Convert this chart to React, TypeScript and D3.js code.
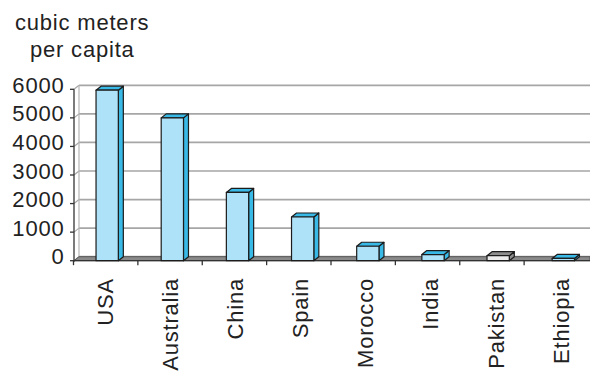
import React from "react";
import * as d3 from "d3";

const categories = ["USA", "Australia", "China", "Spain", "Morocco", "India", "Pakistan", "Ethiopia"];
const values = [5970, 5000, 2390, 1530, 505, 215, 175, 80];
const yTicks = [0, 1000, 2000, 3000, 4000, 5000, 6000];
const titleLines = ["cubic meters", "per capita"];

const W = 590;
const H = 371;

// oblique depth offset of the 3-D floor / walls
const DX = 5;
const DY = -4;

const FONT = "'Liberation Sans', Arial, Helvetica, sans-serif";
const FS = 22;
const LS = 0.8;

export default function App() {
  const y = d3.scaleLinear().domain([0, 6000]).range([260.7, 89.3]);
  // category slots along the front edge of the floor
  const xFloor = d3.scaleBand<string>().domain(categories).range([73.5, 588.5]);
  // column placement (slightly wider pitch because of the perspective)
  const xBar = d3.scaleBand<string>().domain(categories).range([74.6, 595.9]);
  const barW = xBar.step() * 0.342;

  const x0 = 74;
  const xEnd = 590;
  const y0 = y(0);

  const blueFront = "#aee2f9";
  const blueSide = "#38b9e6";
  const greyFront = "#ececec";
  const greySide = "#8e8e8e";

  return (
    <svg
      width={W}
      height={H}
      style={{ position: "absolute", left: 0, top: 0, background: "#fff" }}
      fontFamily={FONT}
    >
      {/* axis title */}
      <text x={15} y={30} fontSize={FS} letterSpacing={LS} fill="#222">
        {titleLines[0]}
      </text>
      <text x={30} y={56.5} fontSize={FS} letterSpacing={LS} fill="#222">
        {titleLines[1]}
      </text>

      {/* back wall gridlines with side-wall connectors */}
      {yTicks.map((t) => (
        <g key={t}>
          <line x1={x0 + DX} x2={xEnd} y1={y(t) + DY} y2={y(t) + DY} stroke="#a6a6a6" strokeWidth={1.7} />
          <line x1={x0} x2={x0 + DX} y1={y(t)} y2={y(t) + DY} stroke="#a6a6a6" strokeWidth={1.2} />
        </g>
      ))}
      <line x1={x0 + DX} x2={x0 + DX} y1={y(6000) + DY} y2={y(0) + DY} stroke="#b5b5b5" strokeWidth={1.2} />

      {/* floor */}
      <polygon
        points={`${x0},${y0} ${x0 + DX},${y0 + DY} ${xEnd},${y0 + DY} ${xEnd},${y0}`}
        fill="#8a8a8a"
        stroke="#555"
        strokeWidth={1}
      />

      {/* front value axis */}
      <line x1={x0} x2={x0} y1={y(6000)} y2={y0 + 1} stroke="#333" strokeWidth={1.3} />
      {yTicks.map((t) => (
        <g key={"t" + t}>
          <line x1={x0 - 4} x2={x0} y1={y(t)} y2={y(t)} stroke="#333" strokeWidth={1.3} />
          <text
            x={64.5}
            y={y(t) - 4}
            textAnchor="end"
            dominantBaseline="central"
            fontSize={FS}
            letterSpacing={LS}
            fill="#222"
          >
            {t}
          </text>
        </g>
      ))}

      {/* front category axis */}
      <line x1={x0} x2={xEnd} y1={y0} y2={y0} stroke="#333" strokeWidth={1.3} />
      {categories.map((c) => (
        <line
          key={"xt" + c}
          x1={xFloor(c)!}
          x2={xFloor(c)!}
          y1={y0}
          y2={y0 + 4.5}
          stroke="#333"
          strokeWidth={1.3}
        />
      ))}

      {/* columns */}
      {categories.map((c, i) => {
        const v = values[i];
        const cx = xBar(c)! + xBar.bandwidth() / 2;
        const l = cx - barW / 2;
        const r = cx + barW / 2;
        const top = y(v);
        const grey = c === "Pakistan";
        const front = grey ? greyFront : blueFront;
        const side = grey ? greySide : blueSide;
        return (
          <g key={c} stroke="#1c1c1c" strokeWidth={1.2} strokeLinejoin="round">
            <polygon
              points={`${r},${top} ${r + DX},${top + DY} ${r + DX},${y0 + DY} ${r},${y0}`}
              fill={side}
            />
            <polygon
              points={`${l},${top} ${l + DX},${top + DY} ${r + DX},${top + DY} ${r},${top}`}
              fill={side}
            />
            <rect x={l} y={top} width={r - l} height={y0 - top} fill={front} />
          </g>
        );
      })}

      {/* category labels */}
      {categories.map((c) => {
        const cx = xBar(c)! + xBar.bandwidth() / 2;
        return (
          <text
            key={"lbl" + c}
            transform={`translate(${cx + 5.5},278) rotate(-90)`}
            textAnchor="end"
            fontSize={FS}
            letterSpacing={LS}
            fill="#222"
          >
            {c}
          </text>
        );
      })}
    </svg>
  );
}
